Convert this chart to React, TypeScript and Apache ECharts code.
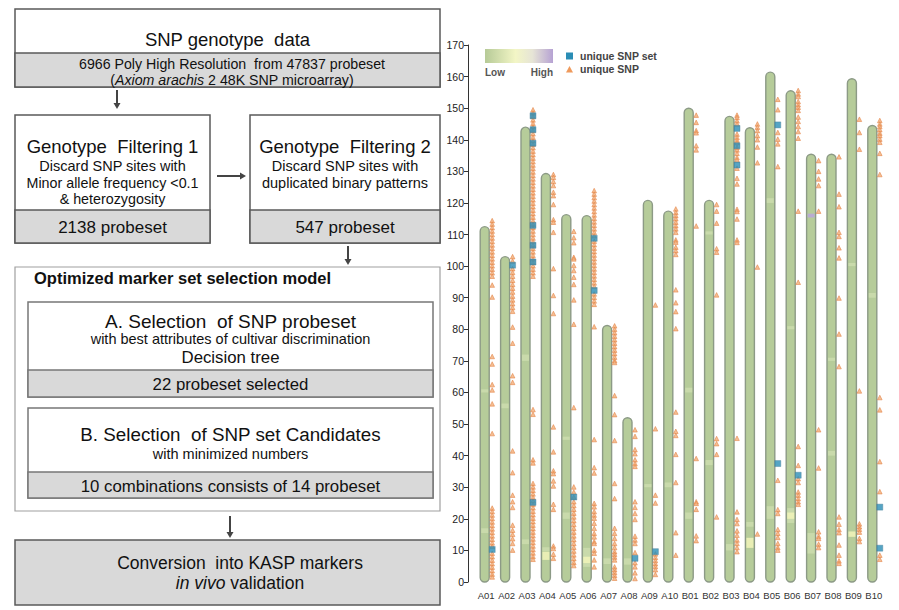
import React, { useEffect, useRef } from 'react';
import * as echarts from 'echarts';

// ---------- chart data ----------
const chromosomes = ['A01','A02','A03','A04','A05','A06','A07','A08','A09','A10','B01','B02','B03','B04','B05','B06','B07','B08','B09','B10'];
const chromLengths = [112.5, 103, 144, 129.3, 116.3, 116, 81.2, 52, 120.8, 117.4, 150, 120.8, 147.4, 143.8, 161.4, 155.5, 135.4, 135.4, 159.3, 144.5];
const yTicks = { min: 0, max: 170, step: 10 };

const snpA01 = [114.4,113.3,112.2,111.1,110,108.9,107.8,106.7,105.6,104.5,103.4,102.3,101.2,100.1,99,97.9,96.8,94,90.2,71.4,69,62.5,60.8,56.4,47,23.4,22.3,21.2,20.1,19,17.9,16.8,15.7,14.6,13.5,12.4,11.3,9.1,8,6.9,5.8,4.7,3.6,2.5,1.6];
const snpA02 = [103,101.6,99.2,98,96.8,95.5,94.2,93,91.8,90.5,89.3,88.1,86.9,85.7,80.7,75.6,65.3,63.2,41.5,34.6,27.5,25.4,23.6,18,16.4,15.1,13.7,12.2,10.1];
const snpA03 = [149.5,148.5,147.4,146.3,145.2,144.1,143,141.9,140.8,139.7,138.6,137.5,136.4,135.3,134.2,133.1,132,130.9,129.8,128.7,127.6,126.5,125.4,124.3,123.2,122.1,121,119.9,118.8,117.7,116.6,115.5,114.4,113.3,112.2,111.1,110,108.9,107.8,106.7,105.6,104.5,103.4,102.3,101.2,100.1,99,97.9,96.8,54.6,53.1,38.7,37.7,31.2,30.1,29,27.9,26.8,25.7,24.6,23.5,22.4,21.3,20.2,19.1,18,16.9,15.8,14.7,13.6,12.5,11.4,10.3,9.2,8.1,7.2];
const snpA04 = [129,128.1,126.8,125.5,123.4,122.3,119.5,114.7,113.9,110.7,99.2,90.7,85,49.1,41.2,35.2,34.3,32,30.4,24.6,23,11.4,10.6,8.8,7.5];
const snpA05 = [111,109,107.4,102.8,102.3,100.2,98.6,96.5,94.2,89.3,81.6,55.2,30.1,28.5,26.9,25.4,24.2,23,21.8,20.6,19.4,18.2,17,15.8,14.6,13.4,12.2,11,9.8,8.6,7.4,6.2,5.2];
const snpA06 = [123.9,122.8,121.7,120.6,119.5,118.4,117.3,116.2,115.1,114,112.9,111.8,110.7,109.6,107.9,106.8,105.7,104.6,103.5,102.4,101.3,100.2,99.1,98,96.9,95.8,94.7,93.6,91.2,90.1,89,87.9,80.8,45.1,36.2,34.5,24.9,23.8,22.3,21.2,20.2,18.6,17,15.4,14.3,12.8,12.2,10.1,9.1,7,4.8];
const snpA07 = [81.1,80,78.9,77.8,76.7,75.6,74.5,73.4,72.3,71.2,70.1,69.5,59,53,44.8,31.2,26.4,17,15.4,13.8,12.2,10.9,9.6,8.8,7.9,7,4.8,3.9,3,2.1,1.2];
const snpA08 = [48.2,46.1,41.9,40.6,38.7,37.5,36.6,25.4,23.6,21.7,19.8,14.5,13.3,12.2,9.3,6.1,4.8,2.9,1.1];
const snpA09 = [87.7,48.5,27.5,25,8.9,7.8,6.8,5.8,4.9,3.9,2.4];
const snpA10 = [118.1,117,116,115,113.9,112.8,111.8,110.7,108.3,107.6,106,104.9,103.7,92.5,88.4,85.6,80.2,53.8,47.7,46.4,40.4,31.5,15.6,8.5];
const snpB01 = [147.8,145.5,142.9,142.2,138.1,136.8,112.7,39.1,25.4,24.9,23,14.6,13.1];
const snpB02 = [119.5,117.4,113.6,105.5,104.4,90.9,45.4,43.8,40.4,20.6];
const snpB03 = [147.8,147.1,146,145,141.8,140.8,139.9,139.1,137.6,136.8,135.7,134.4,133.6,131,127.8,126,118,117.3,114.9,108.3,107.5,45.5,22.2,19.8,18.5,16.2,14.8,13.3,12.2,10.9,9.6];
const snpB04 = [145,144,142.9,141.3,140,137.7,132.7,99.7,15.2];
const snpB05 = [152.8,149.5,142.3,140.2,138.7,131.5,32.2,22.9,21.7,16.6,15.4,14.1,12.2,10.9,10.1];
const snpB06 = [155.6,154.5,153.7,152.1,151.1,150.3,149.3,147.2,145.8,144.2,142.6,140.5,117.4,94.9,42.9,36.9,32.7,31.5,28.5,27.5,26.4,25.4,24.6];
const snpB07 = [133.4,130,127.6,125.5,117.4,48.2,36.1,15.9,14.5,13.8,12,10.9];
const snpB08 = [134.6,122.8,118.8,110.7,109.4,105.8,102.6,89.9,78.5,68.2,20.6,18.3,16.6,15.6,11.7,8.5,6.7,5.9];
const snpB09 = [146.5,142.3,137,60.5,18.4,17.5,16.7,15.8,13.8,12.8];
const snpB10 = [146.1,145,144.2,143.2,142.1,141.3,140.2,139.2,135.7,129,58.4,54.5,38.1,28.6,8.5,7.2];
const uniqueSnpByChrom = [snpA01,snpA02,snpA03,snpA04,snpA05,snpA06,snpA07,snpA08,snpA09,snpA10,snpB01,snpB02,snpB03,snpB04,snpB05,snpB06,snpB07,snpB08,snpB09,snpB10];

const uniqueSnpSetChrom = ['A01','A02','A03','A03','A03','A03','A03','A03','A03','A05','A06','A06','A08','A09','B03','B03','B03','B05','B05','B06','B10','B10'];
const uniqueSnpSetPos   = [10.3, 100.3, 147.6, 143.2, 138.9, 112.9, 106.6, 101.3, 25.2, 26.9, 108.8, 92.3, 7.5, 9.6, 143.6, 138.1, 132, 144.7, 37.5, 33.8, 23.7, 10.7];

// density bands on the ideograms: chromosome, start, end, level
const bandChrom = ['A04','A04','A06','A06','A07','A08','B04','B04','B06','B06','B09','B02','B07','B07','A01','A05','B05','B03','A03','A10','B01','B08','A02','B10','A01','A03','A05','B01','B05','B08','B09','A09','B06','B02'];
const bandStart = [7, 9.8, 4.8, 6, 5.7, 5.5, 10.8, 17.5, 18.7, 20, 14.3, 37, 9, 115.4, 15.5, 20, 20, 10, 70, 30, 60, 40, 55, 90, 60, 12, 45, 20, 120, 70, 100, 30, 80, 110];
const bandEnd   = [9.6, 11, 10.8, 8, 7.5, 7.5, 14, 19, 23.4, 22, 16, 38.6, 15.5, 116.6, 17, 22, 24, 12, 72, 31.5, 61.5, 41.5, 56.5, 91.5, 61, 13.5, 46, 22, 121.5, 71, 101, 31, 81, 111];
const bandLevel = ['yellow','light','light','yellow','light','light','yellow','light','light','yellow','yellow','light','light','purple','light','light','light','light','light','light','light','light','light','light','light','light','light','light','light','light','light','light','light','light'];

const FONT = 'Arial, "Liberation Sans", Helvetica, sans-serif';

// ---------- flowchart helpers ----------
function txt(x: number, y: number, text: string, size: number, opts: any = {}) {
  return {
    type: 'text', x, y, silent: true,
    style: {
      text, fontSize: size, fontFamily: FONT, fill: opts.fill || '#111',
      align: opts.align || 'center', verticalAlign: 'middle',
      textAlign: opts.align || 'center', textVerticalAlign: 'middle',
      fontWeight: opts.bold ? 'bold' : 'normal', rich: opts.rich,
    },
  };
}
function box(x: number, y: number, w: number, h: number, fill: string, stroke: string, lw = 1.5) {
  return { type: 'rect', silent: true, shape: { x, y, width: w, height: h }, style: { fill, stroke, lineWidth: lw } };
}
function arrowDown(x: number, y1: number, y2: number) {
  return [
    { type: 'line', silent: true, shape: { x1: x, y1, x2: x, y2: y2 - 5 }, style: { stroke: '#444', lineWidth: 2 } },
    { type: 'polygon', silent: true, shape: { points: [[x - 3.5, y2 - 6], [x + 3.5, y2 - 6], [x, y2]] }, style: { fill: '#444' } },
  ];
}
function arrowRight(y: number, x1: number, x2: number) {
  return [
    { type: 'line', silent: true, shape: { x1, y1: y, x2: x2 - 5, y2: y }, style: { stroke: '#444', lineWidth: 2 } },
    { type: 'polygon', silent: true, shape: { points: [[x2 - 6, y - 3.5], [x2 - 6, y + 3.5], [x2, y]] }, style: { fill: '#444' } },
  ];
}

const GRAY = '#d9d9d9';
const EDGE = '#5a5a5a';

function flowchart(): any[] {
  const italicRich = (size: number) => ({
    n: { fontSize: size, fontFamily: FONT, fill: '#111' },
    i: { fontSize: size, fontFamily: FONT, fill: '#111', fontStyle: 'italic' },
  });
  return [
    // box 1
    box(15, 9, 425, 78, '#fff', EDGE),
    box(15, 53, 425, 34, GRAY, EDGE),
    txt(227.5, 39, 'SNP genotype  data', 18.5),
    txt(232, 64, '6966 Poly High Resolution  from 47837 probeset', 14.2),
    txt(232, 80, '{n|(}{i|Axiom arachis}{n| 2 48K SNP microarray)}', 14.2, { rich: italicRich(14.2) }),
    ...arrowDown(117, 90, 109),
    // GF1
    box(15, 115, 195, 128, '#fff', EDGE),
    box(15, 210, 195, 33, GRAY, EDGE),
    txt(112.5, 146, 'Genotype  Filtering 1', 18.5),
    txt(112.5, 166, 'Discard SNP sites with', 14.5),
    txt(112.5, 183, 'Minor allele frequency <0.1', 14.3),
    txt(112.5, 199, '& heterozygosity', 14.3),
    txt(112.5, 227, '2138 probeset', 17),
    ...arrowRight(176, 217, 246),
    // GF2
    box(250, 115, 190, 128, '#fff', EDGE),
    box(250, 210, 190, 33, GRAY, EDGE),
    txt(345, 146, 'Genotype  Filtering 2', 18.5),
    txt(345, 166, 'Discard SNP sites with', 14.5),
    txt(345, 183, 'duplicated binary patterns', 14.5),
    txt(345, 227, '547 probeset', 17),
    ...arrowDown(348, 246, 265),
    // optimized model
    box(15, 267, 425, 244, '#fff', '#a0a0a0', 1.2),
    txt(34, 278, 'Optimized marker set selection model', 16.5, { align: 'left', bold: true }),
    box(28, 302, 405, 95, '#fff', '#777'),
    box(28, 370, 405, 27, GRAY, '#777'),
    txt(230.5, 321, 'A. Selection  of SNP probeset', 19),
    txt(230.5, 339, 'with best attributes of cultivar discrimination', 14.5),
    txt(230.5, 357, 'Decision tree', 16.8),
    txt(230.5, 384, '22 probeset selected', 16.8),
    box(28, 408, 405, 90, '#fff', '#777'),
    box(28, 472, 405, 26, GRAY, '#777'),
    txt(230.5, 434, 'B. Selection  of SNP set Candidates', 18.8),
    txt(230.5, 454, 'with minimized numbers', 14.5),
    txt(230.5, 486, '10 combinations consists of 14 probeset', 16.8),
    ...arrowDown(230, 516, 538),
    // final
    box(15, 540, 425, 65, GRAY, EDGE),
    txt(240, 563, 'Conversion  into KASP markers', 17.5),
    txt(240, 583, '{i|in vivo}{n| validation}', 17.5, { rich: italicRich(17.5) }),
  ];
}

function legend(): any[] {
  return [
    {
      type: 'rect', silent: true, shape: { x: 485, y: 49, width: 68, height: 14 },
      style: {
        fill: new echarts.graphic.LinearGradient(0, 0, 1, 0, [
          { offset: 0, color: '#b6ca97' },
          { offset: 0.45, color: '#f3f6c6' },
          { offset: 0.7, color: '#e6e4d6' },
          { offset: 1, color: '#b6a2d3' },
        ]),
      },
    },
    txt(485, 72, 'Low', 10, { align: 'left', bold: true, fill: '#555' }),
    txt(553, 72, 'High', 10, { align: 'right', bold: true, fill: '#555' }),
    { type: 'rect', silent: true, shape: { x: 566, y: 52.5, width: 7, height: 7 }, style: { fill: '#2a8db5' } },
    { type: 'polygon', silent: true, shape: { points: [[569.5, 66], [566, 72.5], [573, 72.5]] }, style: { fill: '#ef9a5c' } },
    txt(580, 56, 'unique SNP set', 10.5, { align: 'left', bold: true, fill: '#444' }),
    txt(580, 69, 'unique SNP', 10.5, { align: 'left', bold: true, fill: '#444' }),
  ];
}

const BAR_W = 9;
const BAR_OFF = -1.5;
const MARK_OFF = 6;
const toneColor: Record<string, string> = { light: '#cbdcad', yellow: '#eef2b8', purple: '#b9a9d8' };

export default function App() {
  const ref = useRef<HTMLDivElement>(null);
  useEffect(() => {
    if (!ref.current) return;
    const chart = echarts.init(ref.current, undefined, { renderer: 'svg' });

    const chromData = chromosomes.map((c, i) => [i, chromLengths[i]]);
    const bandData = bandChrom.map((c, i) => [chromosomes.indexOf(c), bandStart[i], bandEnd[i], bandLevel[i]]);
    const snpData: number[][] = [];
    uniqueSnpByChrom.forEach((arr, i) => arr.forEach((v) => snpData.push([i, v])));
    const setData = uniqueSnpSetChrom.map((c, i) => [chromosomes.indexOf(c), uniqueSnpSetPos[i]]);

    chart.setOption({
      animation: false,
      backgroundColor: '#fff',
      grid: { left: 476, right: 15, top: 45, bottom: 28, containLabel: false },
      xAxis: {
        type: 'category', data: chromosomes,
        axisLine: { show: false }, axisTick: { show: false },
        axisLabel: { fontSize: 9.5, color: '#333', fontFamily: FONT, margin: 8, interval: 0 },
      },
      yAxis: {
        type: 'value', min: yTicks.min, max: yTicks.max, interval: yTicks.step, offset: 8,
        axisLine: { show: true, lineStyle: { color: '#333', width: 1 } },
        axisTick: { show: true, length: 4, lineStyle: { color: '#333' } },
        axisLabel: { fontSize: 10.5, color: '#222', fontFamily: FONT, margin: 4 },
        splitLine: { show: false },
      },
      series: [
        {
          type: 'custom', name: 'chromosome', data: chromData, z: 2,
          renderItem: (params: any, api: any) => {
            const idx = api.value(0);
            const len = api.value(1);
            const p0 = api.coord([idx, 0]);
            const p1 = api.coord([idx, len]);
            const x = p0[0] + BAR_OFF - BAR_W / 2;
            return {
              type: 'rect',
              shape: { x, y: p1[1], width: BAR_W, height: p0[1] - p1[1], r: BAR_W / 2 },
              style: { fill: '#b6cc9a', stroke: '#8c9a86', lineWidth: 1.4 },
            };
          },
        },
        {
          type: 'custom', name: 'density', data: bandData, z: 3,
          renderItem: (params: any, api: any) => {
            const idx = api.value(0);
            const pa = api.coord([idx, api.value(1)]);
            const pb = api.coord([idx, api.value(2)]);
            const level = bandData[params.dataIndex][3] as string;
            const x = pa[0] + BAR_OFF - BAR_W / 2 + 1;
            return {
              type: 'rect',
              shape: { x, y: pb[1], width: BAR_W - 2, height: Math.max(1, pa[1] - pb[1]) },
              style: { fill: toneColor[level], opacity: 0.9 },
            };
          },
        },
        {
          type: 'scatter', name: 'unique SNP', data: snpData, z: 4,
          symbol: 'triangle', symbolSize: 4.6, symbolOffset: [MARK_OFF, 0],
          itemStyle: { color: '#f3ae78', borderColor: '#e27f40', borderWidth: 0.7 },
        },
        {
          type: 'scatter', name: 'unique SNP set', data: setData, z: 5,
          symbol: 'rect', symbolSize: 6, symbolOffset: [MARK_OFF, 0],
          itemStyle: { color: '#2a8db5', borderColor: '#4a7f98', borderWidth: 0.5 },
        },
      ],
      graphic: { elements: [...flowchart(), ...legend()] },
    });
    return () => chart.dispose();
  }, []);
  return <div ref={ref} style={{ position: 'fixed', left: 0, top: 0, width: 899, height: 610 }} />;
}
